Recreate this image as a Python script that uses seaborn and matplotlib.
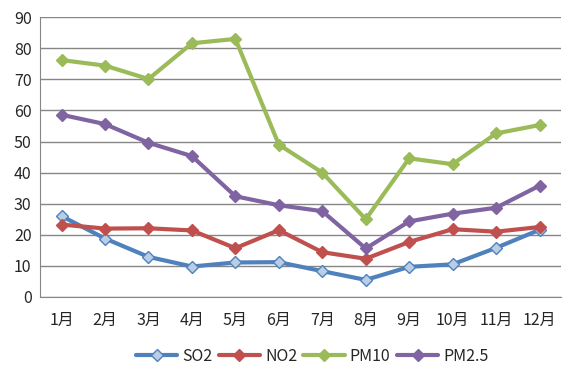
import pandas as pd
import numpy as np
import matplotlib.pyplot as plt
import seaborn as sns

sns.set_style("white")
plt.rcParams['font.family'] = ['Noto Sans CJK SC', 'DejaVu Sans']

months = ["1月", "2月", "3月", "4月", "5月", "6月", "7月", "8月", "9月", "10月", "11月", "12月"]
so2 = [26.0, 18.8, 12.9, 9.8, 11.1, 11.2, 8.3, 5.5, 9.7, 10.5, 15.8, 21.6]
no2 = [23.3, 22.0, 22.1, 21.4, 15.7, 21.5, 14.4, 12.3, 17.7, 21.8, 21.0, 22.5]
pm10 = [76.2, 74.4, 70.1, 81.6, 83.0, 49.0, 40.0, 25.0, 44.6, 42.7, 52.6, 55.3]
pm25 = [58.6, 55.6, 49.6, 45.3, 32.4, 29.5, 27.6, 15.6, 24.3, 26.8, 28.7, 35.8]

series = {"SO2": so2, "NO2": no2, "PM10": pm10, "PM2.5": pm25}
colors = {"SO2": "#4F81BD", "NO2": "#C0504D", "PM10": "#9BBB59", "PM2.5": "#8064A2"}
faces = {"SO2": "#B9CDE5", "NO2": "#C0504D", "PM10": "#9BBB59", "PM2.5": "#8064A2"}

df = pd.DataFrame({"idx": np.arange(len(months))})
for k, v in series.items():
    df[k] = v
long = df.melt(id_vars="idx", var_name="pollutant", value_name="value")

fig = plt.figure(figsize=(5.78, 3.81), dpi=100)
ax = fig.add_axes([0.069, 0.2205, 0.902, 0.7345])

for name in series:
    sub = long[long["pollutant"] == name]
    sns.lineplot(data=sub, x="idx", y="value", ax=ax, color=colors[name], linewidth=3,
                 marker="D", markersize=6.5, markerfacecolor=faces[name],
                 markeredgecolor=colors[name], markeredgewidth=1, label=name)

ax.set_xlim(-0.5, len(months) - 0.5)
ax.set_ylim(0, 90)
ax.set_yticks(range(0, 91, 10))
ax.set_xticks(np.arange(len(months)))
ax.set_xticklabels(months)
ax.set_xticks(np.arange(-0.5, len(months)), minor=True)
ax.tick_params(axis="x", which="major", length=0, pad=11, labelsize=11.5)
ax.tick_params(axis="x", which="minor", length=6, color="#868686", direction="out")
ax.tick_params(axis="y", length=0, labelsize=11.5, pad=6)
ax.yaxis.grid(True, color="#868686", linewidth=1)
ax.set_axisbelow(True)
for s in ["top", "right"]:
    ax.spines[s].set_visible(False)
for s in ["left", "bottom"]:
    ax.spines[s].set_color("#868686")
ax.set_xlabel("")
ax.set_ylabel("")

handles, labels = ax.get_legend_handles_labels()
ax.get_legend().remove()
fig.legend(handles, labels, loc="lower center", bbox_to_anchor=(0.54, 0.005), ncol=4,
           frameon=False, fontsize=11.5, handlelength=2.6, columnspacing=0.4, handletextpad=0.3)

plt.savefig("out.png", dpi=100)
